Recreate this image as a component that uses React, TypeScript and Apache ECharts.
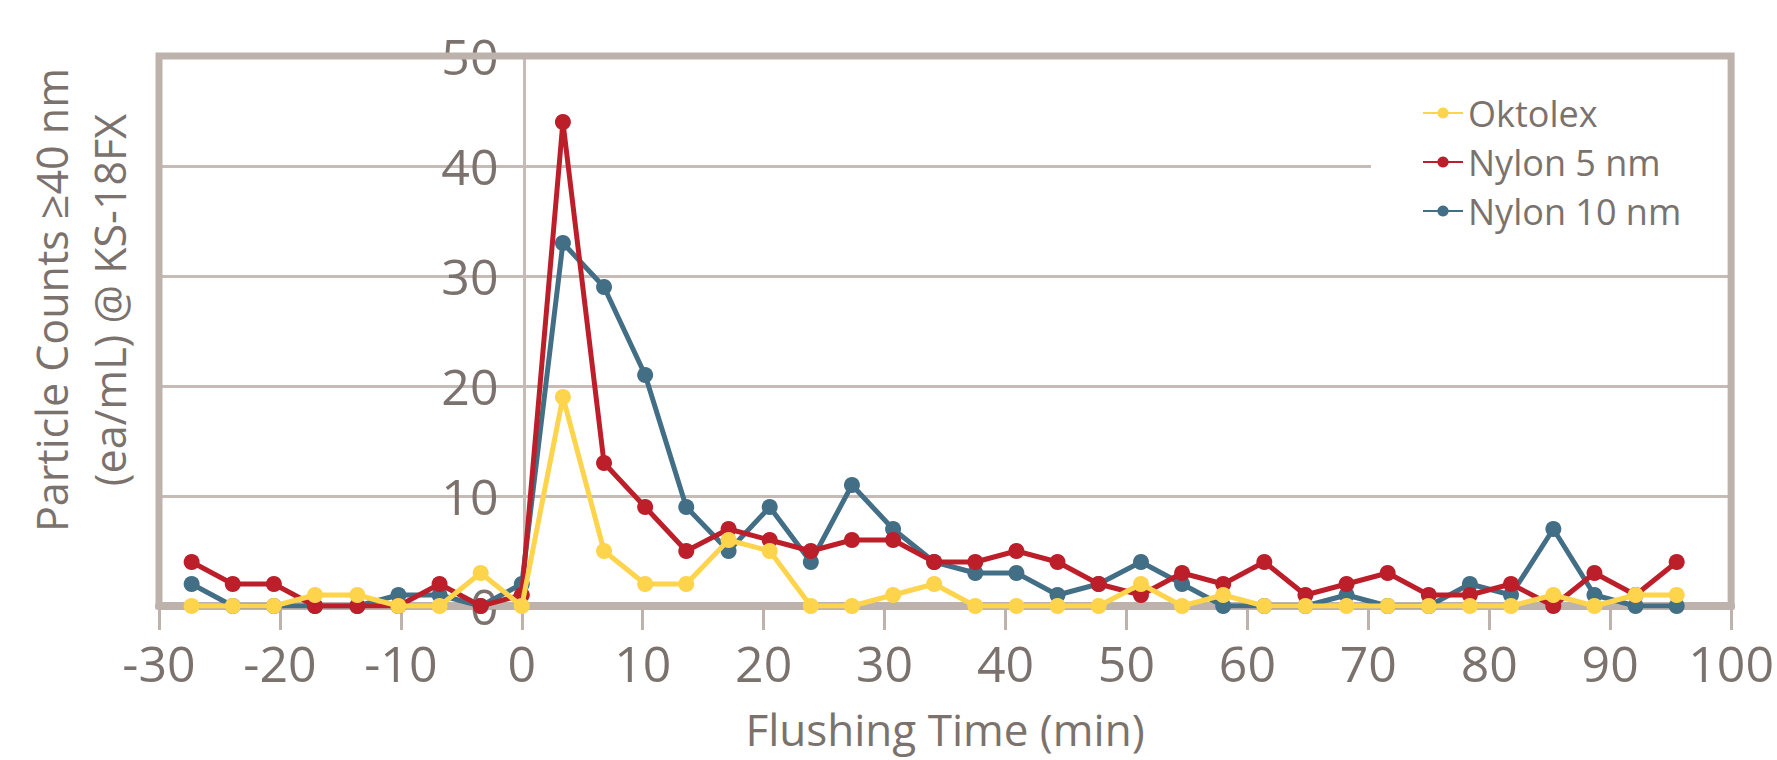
import React, { useEffect, useRef } from "react";
import * as echarts from "echarts";

const times = [
  -27.3, -23.9, -20.5, -17.1, -13.6, -10.2, -6.8, -3.4, 0, 3.4, 6.8, 10.2, 13.6, 17.1,
  20.5, 23.9, 27.3, 30.7, 34.1, 37.5, 40.9, 44.3, 47.7, 51.2, 54.6, 58.0, 61.4, 64.8,
  68.2, 71.6, 75.0, 78.4, 81.8, 85.3, 88.7, 92.1, 95.5,
];
const oktolex = [
  0, 0, 0, 1, 1, 0, 0, 3, 0, 19, 5, 2, 2, 6, 5, 0, 0, 1, 2, 0, 0, 0, 0, 2, 0, 1, 0, 0,
  0, 0, 0, 0, 0, 1, 0, 1, 1,
];
const nylon5 = [
  4, 2, 2, 0, 0, 0, 2, 0, 1, 44, 13, 9, 5, 7, 6, 5, 6, 6, 4, 4, 5, 4, 2, 1, 3, 2, 4, 1,
  2, 3, 1, 1, 2, 0, 3, 1, 4,
];
const nylon10 = [
  2, 0, 0, 0, 0, 1, 1, 0, 2, 33, 29, 21, 9, 5, 9, 4, 11, 7, 4, 3, 3, 1, 2, 4, 2, 0, 0, 0,
  1, 0, 0, 2, 1, 7, 1, 0, 0,
];
const seriesNames = ["Oktolex", "Nylon 5 nm", "Nylon 10 nm"];
const seriesColors = ["#FDD44B", "#BC1F2A", "#436F86"];

const TEXT = "#7B726D";
const FRAME = "#BDB3AC";
const GRID = "#C6BCB5";
const FONT = "'Open Sans', Lato, sans-serif";

const GRID_LEFT = 159;
const GRID_RIGHT = 34;
const X_MIN = -30;
const X_MAX = 100;

export default function App() {
  const ref = useRef<HTMLDivElement>(null);
  useEffect(() => {
    document.body.style.margin = "0";
    const chart = echarts.init(ref.current!, null, { renderer: "svg" });
    const values = [oktolex, nylon5, nylon10];
    const zs = [5, 4, 3];
    const gridWidth = 1777 - GRID_LEFT - GRID_RIGHT;
    const zeroOffset = ((0 - X_MIN) / (X_MAX - X_MIN)) * gridWidth;
    chart.setOption({
      animation: false,
      backgroundColor: "#fff",
      textStyle: { fontFamily: FONT },
      grid: {
        left: GRID_LEFT,
        right: GRID_RIGHT,
        top: 56,
        bottom: 154,
        show: true,
        z: 2,
        borderColor: FRAME,
        borderWidth: 7,
        backgroundColor: "transparent",
      },
      legend: {
        data: seriesNames,
        orient: "vertical",
        z: 1,
        left: 1371,
        top: 85,
        itemWidth: 40,
        itemHeight: 14,
        itemGap: 13,
        backgroundColor: "#fff",
        padding: [10, 70, 10, 51],
        textStyle: { fontSize: 36, lineHeight: 36, color: TEXT, fontFamily: FONT },
      },
      xAxis: {
        type: "value",
        min: X_MIN,
        max: X_MAX,
        interval: 10,
        z: 0,
        name: "Flushing Time (min)",
        nameLocation: "middle",
        nameGap: 101,
        nameTextStyle: { fontSize: 44, color: TEXT, fontFamily: FONT },
        axisLine: { onZero: false, lineStyle: { color: FRAME, width: 8 } },
        axisTick: { show: true, inside: false, length: 24, lineStyle: { color: FRAME, width: 3 } },
        axisLabel: { fontSize: 50, color: TEXT, margin: 32, fontFamily: FONT },
        splitLine: { show: false },
      },
      yAxis: {
        type: "value",
        min: 0,
        max: 50,
        interval: 10,
        z: 0,
        offset: -zeroOffset,
        axisLine: { show: true, onZero: false, lineStyle: { color: GRID, width: 3 } },
        axisTick: { show: false },
        axisLabel: { fontSize: 50, color: TEXT, margin: 26, fontFamily: FONT },
        splitLine: { show: true, lineStyle: { color: GRID, width: 3 } },
      },
      graphic: [
        {
          type: "text",
          x: 80,
          y: 300,
          rotation: Math.PI / 2,
          style: {
            text: "Particle Counts \u226540 nm\n(ea/mL) @ KS-18FX",
            fontSize: 43,
            lineHeight: 58,
            fill: TEXT,
            fontFamily: FONT,
            align: "center",
            verticalAlign: "middle",
          },
        },
      ],
      series: seriesNames.map((name, k) => ({
        name,
        type: "line",
        z: zs[k],
        data: times.map((t, i) => [t, values[k][i]]),
        symbol: "circle",
        symbolSize: 16,
        showSymbol: true,
        itemStyle: { color: seriesColors[k] },
        lineStyle: { color: seriesColors[k], width: 5 },
      })),
    });
    return () => chart.dispose();
  }, []);
  return <div ref={ref} style={{ width: 1777, height: 760 }} />;
}
